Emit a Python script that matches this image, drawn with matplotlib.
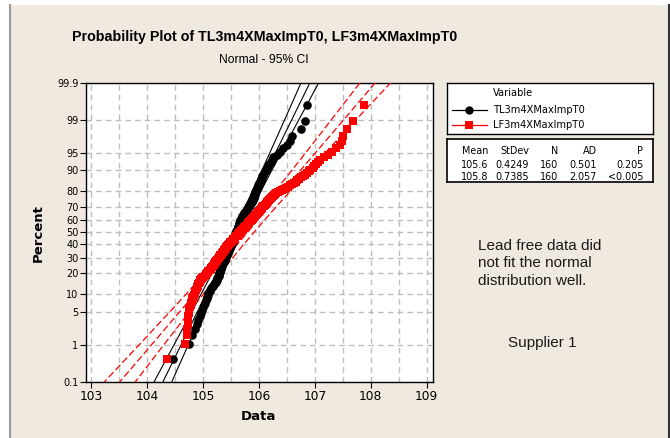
import numpy as np
import matplotlib
matplotlib.use("Agg")
import matplotlib.pyplot as plt
from matplotlib.patches import Rectangle
from matplotlib.lines import Line2D
from matplotlib.ticker import NullLocator
from statistics import NormalDist

# ---------------- data (sorted values) ----------------
tl_values = [
    104.47, 104.76, 104.80, 104.85, 104.89, 104.92, 104.94, 104.96, 104.99, 105.01,
    105.02, 105.04, 105.05, 105.07, 105.08, 105.09, 105.10, 105.12, 105.13,
    105.15, 105.17, 105.18, 105.20, 105.22, 105.23, 105.25,
    105.26, 105.26, 105.27, 105.28, 105.29, 105.29, 105.30, 105.31, 105.31, 105.32,
    105.33, 105.33, 105.34, 105.35, 105.35, 105.36,
    105.37, 105.37, 105.38, 105.39, 105.39, 105.40, 105.41, 105.41, 105.42, 105.43,
    105.43, 105.44, 105.45, 105.45, 105.46, 105.47, 105.47, 105.48, 105.49, 105.49,
    105.50, 105.51, 105.51, 105.52, 105.52, 105.53, 105.53, 105.54,
    105.55, 105.55, 105.56, 105.56, 105.57, 105.57, 105.58, 105.58, 105.59, 105.59,
    105.60, 105.60, 105.61, 105.61, 105.62, 105.62, 105.63, 105.63, 105.64, 105.64,
    105.65, 105.65, 105.66, 105.66, 105.67, 105.67, 105.68, 105.68, 105.69, 105.70,
    105.70, 105.71, 105.72,
    105.73, 105.74, 105.75, 105.76, 105.77, 105.78, 105.79, 105.80, 105.81, 105.82,
    105.83, 105.84, 105.85, 105.86, 105.87, 105.88, 105.90,
    105.90, 105.91, 105.91, 105.92, 105.92, 105.93, 105.93, 105.94, 105.95, 105.95, 105.96,
    105.97, 105.98, 105.99, 106.00, 106.01, 106.02, 106.03, 106.04, 106.05,
    106.06, 106.08, 106.09, 106.11, 106.12, 106.14,
    106.16, 106.18, 106.21, 106.23, 106.26,
    106.32, 106.38, 106.44, 106.50, 106.55, 106.59,
    106.75, 106.82, 106.86,
]
lf_values = [
    104.35, 104.68, 104.72,
    104.72, 104.73, 104.73, 104.74, 104.75, 104.76, 104.77, 104.78, 104.79, 104.80,
    104.81, 104.82, 104.84, 104.85, 104.86, 104.87, 104.89, 104.90,
    104.91, 104.92, 104.93, 104.94, 104.95,
    104.97, 104.99, 105.01, 105.03, 105.05, 105.07, 105.09, 105.10, 105.12, 105.14,
    105.15, 105.17,
    105.18, 105.19, 105.20, 105.21, 105.22, 105.24, 105.25, 105.26, 105.27, 105.28,
    105.29, 105.30, 105.31, 105.32, 105.34, 105.35, 105.36, 105.37, 105.38, 105.39,
    105.40, 105.41, 105.42, 105.43, 105.44, 105.45, 105.47, 105.48,
    105.49, 105.51, 105.52, 105.53, 105.54, 105.56, 105.57, 105.58, 105.59, 105.61,
    105.62, 105.63, 105.64, 105.66, 105.67, 105.68, 105.69, 105.71, 105.72, 105.73,
    105.74, 105.76,
    105.77, 105.78, 105.80, 105.81, 105.82, 105.83, 105.85, 105.86, 105.87, 105.88,
    105.90, 105.91, 105.92, 105.93, 105.95, 105.96, 105.97, 105.98, 106.00, 106.01,
    106.02,
    106.03, 106.05, 106.06, 106.08, 106.09, 106.11, 106.12, 106.14, 106.15, 106.17, 106.18,
    106.20, 106.22, 106.23, 106.25, 106.27, 106.28, 106.30,
    106.34, 106.37, 106.41, 106.45, 106.48, 106.52, 106.56,
    106.59, 106.62, 106.66, 106.69, 106.72, 106.76, 106.79, 106.82, 106.86,
    106.89, 106.92, 106.96, 106.99, 107.02, 107.06, 107.09,
    107.16, 107.24, 107.31, 107.38, 107.45, 107.48, 107.51,
    107.57, 107.69, 107.88,
]

series_names = ["TL3m4XMaxImpT0", "LF3m4XMaxImpT0"]
means = [105.6, 105.8]
stdevs = [0.4249, 0.7385]
ns = [160, 160]
stats_header = ["Mean", "StDev", "N", "AD", "P"]
stats_rows = [["105.6", "0.4249", "160", "0.501", "0.205"],
              ["105.8", "0.7385", "160", "2.057", "<0.005"]]
y_ticks = [0.1, 1, 5, 10, 20, 30, 40, 50, 60, 70, 80, 90, 95, 99, 99.9]
y_ticklabels = ["0.1", "1", "5", "10", "20", "30", "40", "50", "60", "70", "80",
                "90", "95", "99", "99.9"]
x_ticks = [103, 104, 105, 106, 107, 108, 109]

# ---------------- helpers ----------------
nd = NormalDist()
_ppf = np.vectorize(nd.inv_cdf, otypes=[float])
_cdf = np.vectorize(nd.cdf, otypes=[float])


def fwd(p):
    p = np.clip(np.asarray(p, float) / 100.0, 1e-9, 1 - 1e-9)
    return _ppf(p)


def inv(z):
    return _cdf(np.asarray(z, float)) * 100.0


BG = "#F0E9E0"
W, H = 670, 438
fig = plt.figure(figsize=(W / 100, H / 100), dpi=100, facecolor=BG)


def fx(px):
    return px / W


def fy(py):
    return 1 - py / H


# frame decorations
fig.patches.append(Rectangle((0, 0), fx(9), 1, transform=fig.transFigure,
                             facecolor="white", edgecolor="none", zorder=0))
fig.patches.append(Rectangle((0, fy(5)), 1, 5 / H, transform=fig.transFigure,
                             facecolor="white", edgecolor="none", zorder=0))
fig.lines.append(Line2D([fx(9.5), fx(9.5)], [0, fy(5)], transform=fig.transFigure,
                        color="#9A9A9A", lw=1.5))
fig.lines.append(Line2D([fx(668.5), fx(668.5)], [0, fy(5)], transform=fig.transFigure,
                        color="#333333", lw=1.5))

# ---------------- main axes ----------------
ax_l, ax_r, ax_t, ax_b = 86, 432.7, 82.7, 381.7
ax = fig.add_axes([fx(ax_l), fy(ax_b), (ax_r - ax_l) / W, (ax_b - ax_t) / H])
ax.set_facecolor("white")
ax.set_yscale("function", functions=(fwd, inv))
ax.set_ylim(0.1, 99.9)
ax.set_xlim(103 - 5 / 55.95, 109 + 6 / 55.95)

ax.set_yticks(y_ticks)
ax.set_yticklabels(y_ticklabels)
ax.yaxis.set_minor_locator(NullLocator())
ax.set_xticks(x_ticks)
ax.set_xticks(np.arange(103, 109.01, 0.5), minor=True)
ax.tick_params(axis="x", which="minor", length=0)
ax.tick_params(axis="both", which="major", direction="out", length=4, width=0.8,
               color="black")
ax.tick_params(axis="y", labelsize=7, pad=1.5)
ax.tick_params(axis="x", labelsize=8.8, pad=2)

gkw = dict(color="#BDBDBD", linestyle=(0, (4, 3)), linewidth=1.0)
ax.grid(True, axis="x", which="both", **gkw)
ax.grid(True, axis="y", which="major", **gkw)
ax.set_axisbelow(True)
for s in ax.spines.values():
    s.set_color("black")
    s.set_linewidth(1.0)

# fitted lines and 95% CI
zz = np.linspace(-3.3, 3.3, 300)
pp = inv(zz)
line_styles = [dict(color="black", lw=0.8, ls="-"),
               dict(color="#FF0000", lw=0.9, ls=(0, (5.5, 2.5)))]
for mu, sd, n, st in zip(means, stdevs, ns, line_styles):
    center = mu + sd * zz
    half = 1.96 * sd * np.sqrt(1.0 / n + zz ** 2 / (2.0 * n))
    ax.plot(center, pp, zorder=3, **st)
    ax.plot(center - half, pp, zorder=3, **st)
    ax.plot(center + half, pp, zorder=3, **st)


# data points (median ranks)
def plot_pos(vals):
    v = np.sort(np.asarray(vals, float))
    n = len(v)
    i = np.arange(1, n + 1)
    return v, 100.0 * (i - 0.3) / (n + 0.4)


xv, yv = plot_pos(tl_values)
ax.plot(xv, yv, "o", color="black", markersize=6.2, markeredgewidth=0, zorder=4)
xv, yv = plot_pos(lf_values)
ax.plot(xv, yv, "s", color="#FF0000", markersize=5.5, markeredgewidth=0, zorder=5)

# ---------------- titles ----------------
fig.text(fx(265), fy(37), "Probability Plot of TL3m4XMaxImpT0, LF3m4XMaxImpT0",
         ha="center", va="center", fontsize=10.3, fontweight="bold",
         family="Liberation Sans")
fig.text(fx(264), fy(60), "Normal - 95% CI", ha="center", va="center",
         fontsize=8.7, family="Liberation Sans")
fig.text(fx(38), fy(233), "Percent", rotation=90, ha="center", va="center",
         fontsize=9.5, fontweight="bold")
fig.text(fx(258), fy(416), "Data", ha="center", va="center",
         fontsize=9.5, fontweight="bold")

# ---------------- legend box ----------------
lg_l, lg_t, lg_r, lg_b = 447.3, 83.3, 653.3, 134.3
lax = fig.add_axes([fx(lg_l), fy(lg_b), (lg_r - lg_l) / W, (lg_b - lg_t) / H])
lax.set_xlim(0, lg_r - lg_l)
lax.set_ylim(lg_b - lg_t, 0)
lax.set_xticks([])
lax.set_yticks([])
lax.set_facecolor("white")
for s in lax.spines.values():
    s.set_linewidth(1.0)
lax.text(46, 10, "Variable", va="center", ha="left", fontsize=7.1)
markers = [dict(marker="o", color="black", markersize=6.0),
           dict(marker="s", color="#FF0000", markersize=5.3)]
for k, (name, mk) in enumerate(zip(series_names, markers)):
    yy = 26.7 + 15 * k
    lax.plot([4.4, 39.4], [yy, yy], lw=0.9, color=mk["color"])
    lax.plot([21.9], [yy], ls="none", marker=mk["marker"], color=mk["color"],
             markersize=mk["markersize"], markeredgewidth=0)
    lax.text(46, yy, name, va="center", ha="left", fontsize=7.1)

# ---------------- stats box ----------------
sb_t, sb_b = 139.0, 182.3
sax = fig.add_axes([fx(lg_l), fy(sb_b), (lg_r - lg_l) / W, (sb_b - sb_t) / H])
sax.set_xlim(0, lg_r - lg_l)
sax.set_ylim(sb_b - sb_t, 0)
sax.set_xticks([])
sax.set_yticks([])
sax.set_facecolor("white")
for s in sax.spines.values():
    s.set_linewidth(1.2)
col_x = [41.5, 82, 111, 149.5, 196]
for cx, h in zip(col_x, stats_header):
    sax.text(cx, 12, h, ha="right", va="center", fontsize=6.9)
for r, row in enumerate(stats_rows):
    for cx, val in zip(col_x, row):
        sax.text(cx, 26 + 11.7 * r, val, ha="right", va="center", fontsize=6.9)

# ---------------- annotations ----------------
fig.text(fx(478.3), fy(263.3), "Lead free data did\nnot fit the normal\ndistribution well.",
         ha="left", va="center", fontsize=11, family="Liberation Sans",
         color="#1A1A1A", linespacing=1.3)
fig.text(fx(542), fy(342.7), "Supplier 1", ha="center", va="center", fontsize=11,
         family="Liberation Sans", color="#1A1A1A")

fig.savefig("out.png", dpi=100, facecolor=BG)
